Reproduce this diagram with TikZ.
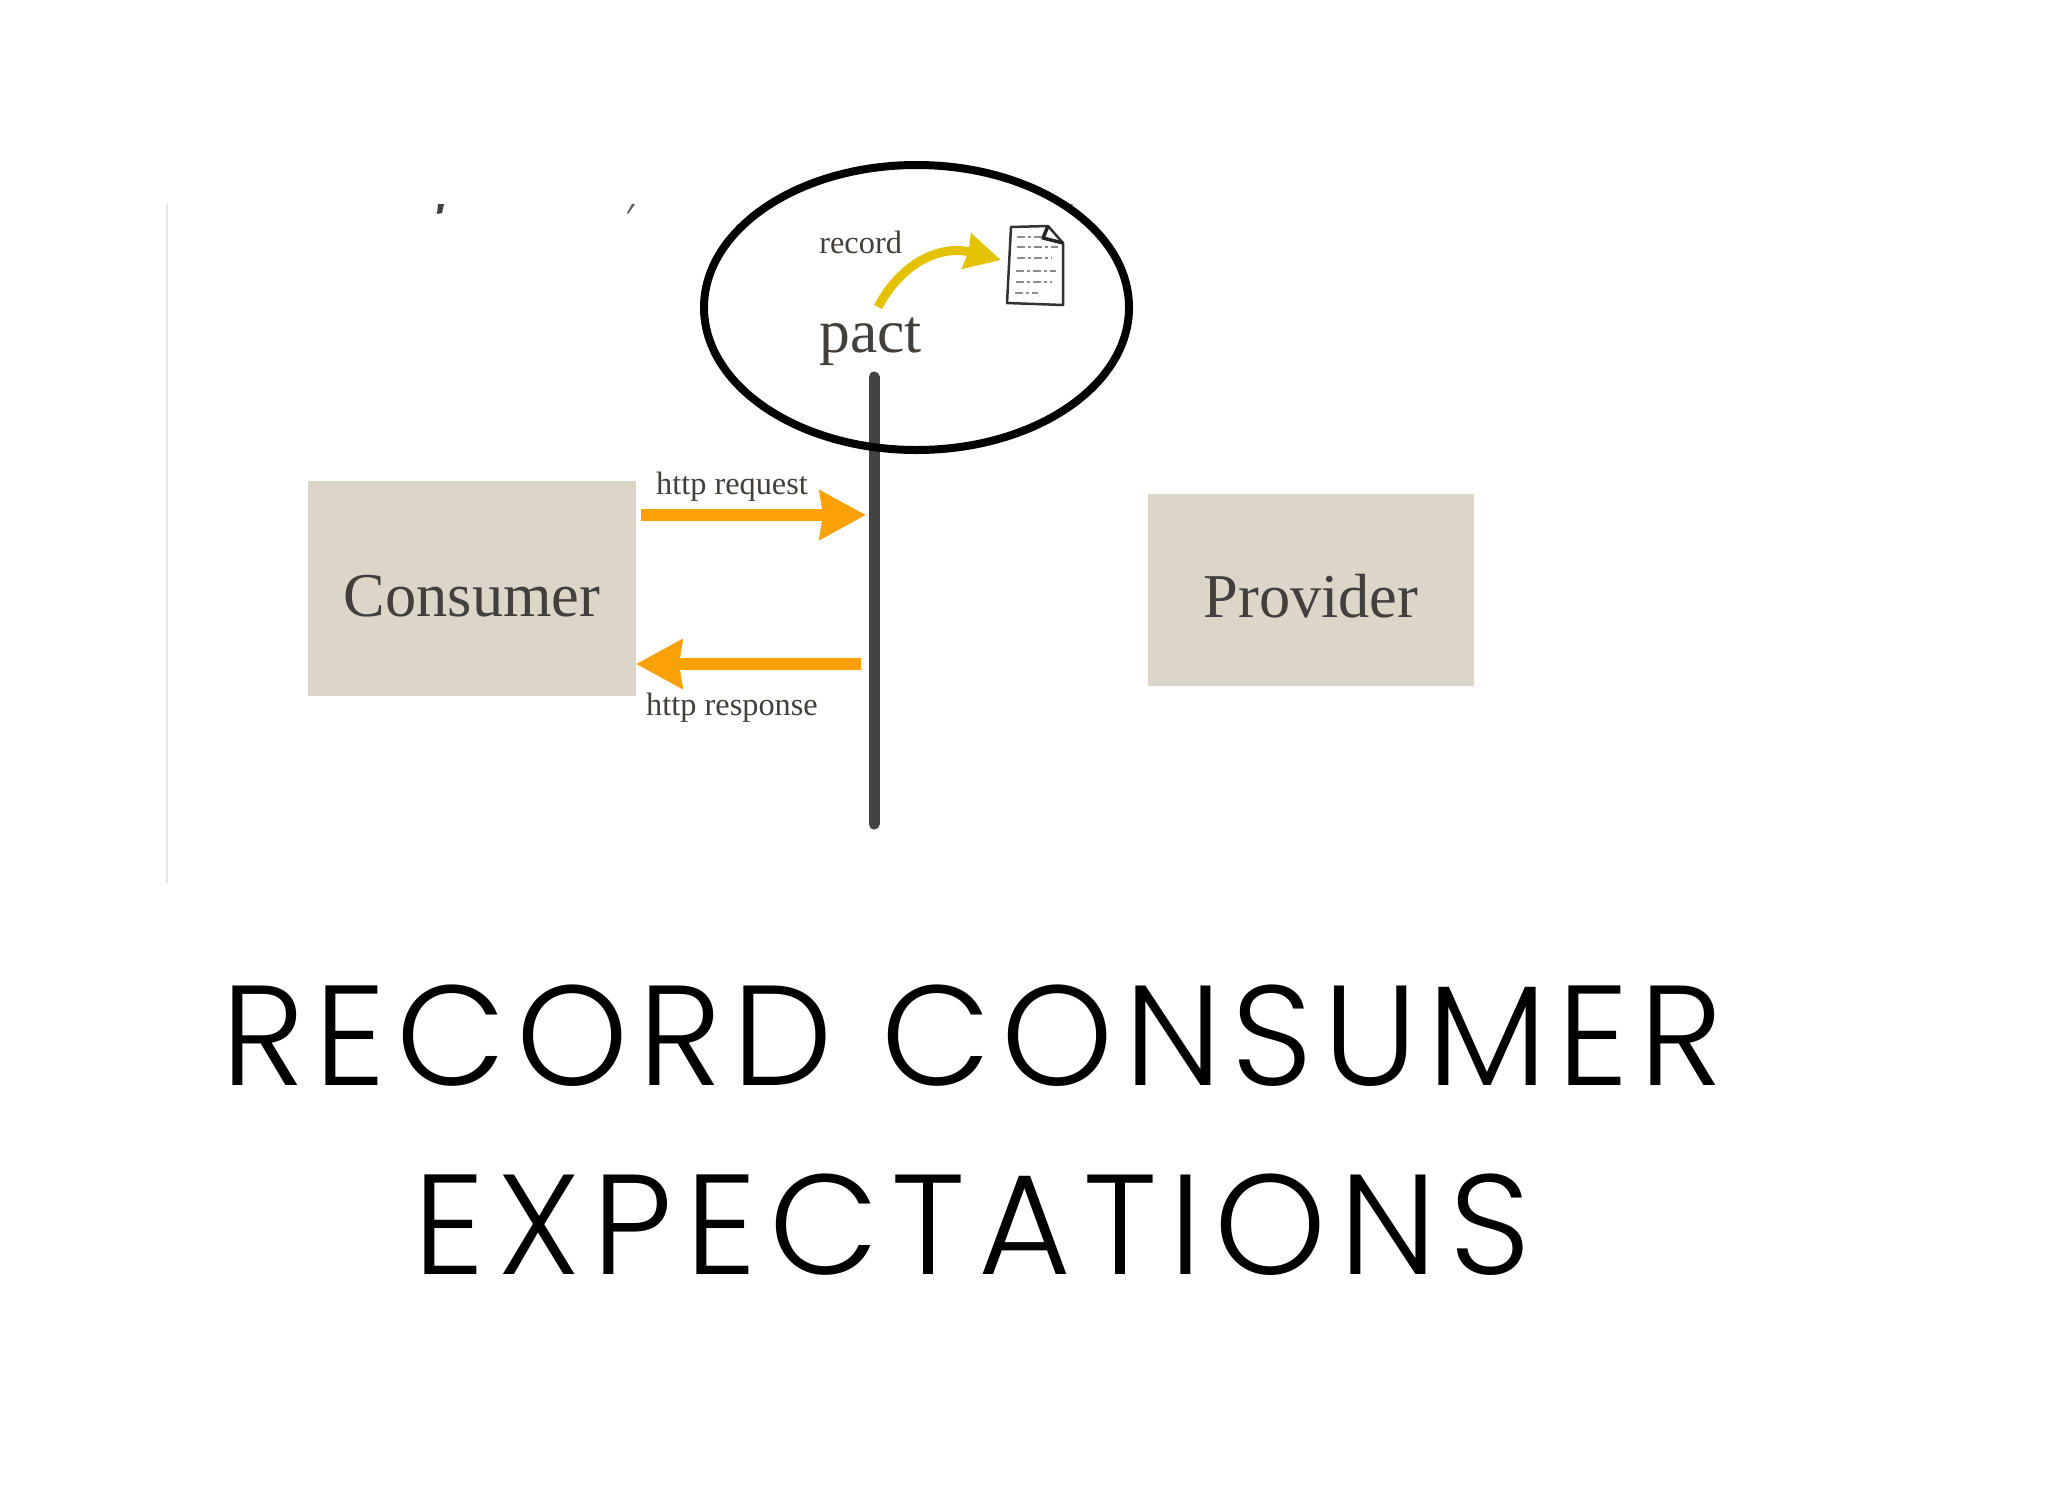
\documentclass[tikz,border=0pt]{standalone}
\usepackage{fontspec}
\usepackage{tikz}
\usetikzlibrary{arrows.meta,shapes.geometric}
\setmainfont{Liberation Serif}
\newfontfamily\titlefont[LetterSpace=7.1]{Poppins Light}
\definecolor{boxfill}{HTML}{DCD6C9}
\definecolor{inkgrey}{HTML}{423F3C}
\definecolor{barblack}{HTML}{444344}
\definecolor{arroworange}{HTML}{F9A106}
\definecolor{arrowyellow}{HTML}{E3C300}
\begin{document}
\begin{tikzpicture}
[x=0.2mm,y=-0.2mm,
box/.style={rectangle,fill=boxfill,text=inkgrey,inner sep=0pt,text height=32pt,text depth=0pt,font=\fontsize{35.5}{35.5}\selectfont},
lab/.style={inner sep=0pt,text=inkgrey,font=\fontsize{18.4}{18.4}\selectfont},
flow/.style={-{Stealth[length=9.2mm,width=9.6mm,inset=0.6mm]},arroworange,line width=2.4mm},
scribble/.style={black!45,line width=0.3mm,dash pattern=on 1.6mm off 0.5mm on 0.7mm off 0.6mm}]
\useasboundingbox (0,0) rectangle (2048,1494);
\fill[white] (0,0) rectangle (2048,1494);
% faint page edge and cut-off marks
\draw[black!10,line width=0.4mm] (167,204) -- (167,883);
\fill[black!75] (438,204) -- (444,204) -- (442,213) -- (437,214) -- cycle;
\fill[black!65] (632,204) -- (635,204) -- (628,214) -- (627,213) -- cycle;
\fill[black!50] (1066,204) -- (1073,204) -- (1071,209) -- (1066,211) -- cycle;
% boxes
\node[box,minimum width=65.6mm,minimum height=43.1mm] at (472,588.5) (consumer) {Consumer};
\node[box,minimum width=65.3mm,minimum height=38.4mm] at (1311,589.5) (provider) {Provider};
% pact line
\coordinate (bartop) at (874,377);
\coordinate (barbot) at (874,824);
\draw[barblack,line width=2.2mm,line cap=round] (bartop) -- (barbot);
\node[lab,anchor=base west,font=\fontsize{35}{35}\selectfont] at (819,352) (pact) {pact};
\node[lab,anchor=base west] at (819,253) (record) {record};
% arrows
\coordinate (reqstart) at (641,515);
\coordinate (reqtip) at (866,515);
\coordinate (respstart) at (861,664);
\coordinate (resptip) at (636,664);
\draw[flow] (reqstart) -- (reqtip);
\draw[flow] (respstart) -- (resptip);
\node[lab] at (732,487) (req) {http request};
\node[lab] at (732,708) (resp) {http response};
% record document
\coordinate (recstart) at (878,307);
\coordinate (dockey) at (1001,260);
\draw[arrowyellow,line width=1.8mm,-{Stealth[length=7mm,width=7mm,inset=0.3mm]}] (recstart) .. controls (903,260) and (943,245) .. (dockey);
\draw[black!80,line width=0.5mm,line join=round] (1011,227) -- (1048,226) -- (1063,243) -- (1063,305) -- (1007,303) -- cycle;
\draw[black!85,line width=0.7mm,line join=round] (1048,226) -- (1043,238) -- (1063,243);
\draw[scribble] (1017,237) -- (1042,237);
\draw[scribble] (1017,247) -- (1058,247);
\draw[scribble] (1017,258) -- (1052,258);
\draw[scribble] (1016,271) -- (1056,271);
\draw[scribble] (1016,282) -- (1052,282);
\draw[scribble] (1015,293) -- (1038,293);
% circle round pact
\node[draw=black,line width=1.6mm,ellipse,inner sep=0pt,minimum width=85mm,minimum height=57mm] at (916.5,307.5) (ring) {};
% caption
\node[align=center,inner sep=0pt,font=\titlefont\fontsize{81}{107.6}\selectfont] at (972,1130) (caption) {RECORD CONSUMER\\{\addfontfeature{LetterSpace=8.7}EXPECTATIONS}};
\end{tikzpicture}
\end{document}
